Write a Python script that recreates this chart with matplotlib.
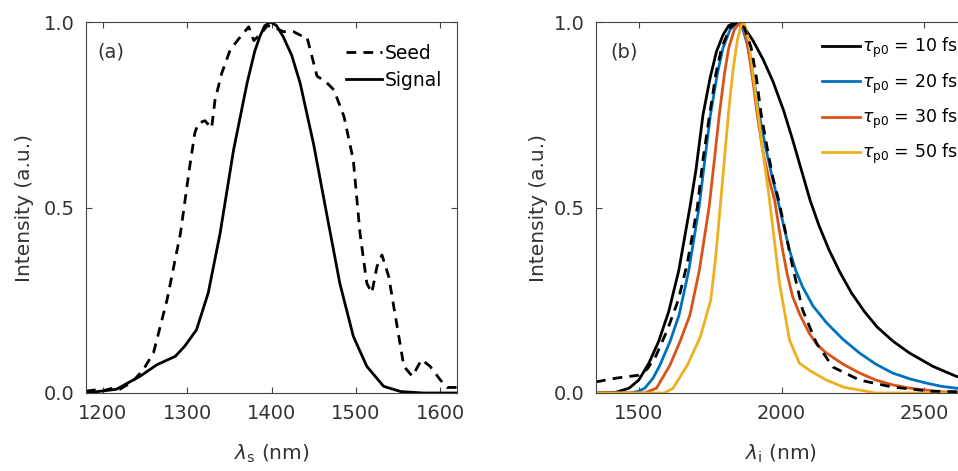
import numpy as np
import matplotlib
matplotlib.use("Agg")
import matplotlib.pyplot as plt

plt.rcParams['font.family'] = ['DejaVu Sans']
plt.rcParams['mathtext.fontset'] = 'dejavusans'

# ---- panel (a) data ----
seed_x = [1180, 1190, 1200, 1210, 1220, 1235, 1248, 1260, 1276, 1292, 1303, 1309, 1313,
          1321, 1329, 1333, 1341, 1351, 1363, 1373, 1379, 1388, 1395, 1402, 1414, 1426,
          1438, 1442, 1454, 1464, 1474, 1486, 1497, 1505, 1513, 1519, 1525, 1531, 1539,
          1547, 1557, 1567, 1578, 1588, 1600, 1608, 1620]
seed_y = [0.005, 0.008, 0.006, 0.012, 0.01, 0.03, 0.063, 0.108, 0.25, 0.43, 0.61, 0.70, 0.727,
          0.734, 0.714, 0.79, 0.862, 0.925, 0.96, 0.987, 0.95, 0.97, 0.99, 0.987, 0.974, 0.974,
          0.96, 0.96, 0.854, 0.84, 0.817, 0.745, 0.628, 0.43, 0.296, 0.27, 0.34, 0.372, 0.314,
          0.206, 0.072, 0.045, 0.09, 0.072, 0.036, 0.015, 0.015]
signal_x = [1180, 1216, 1244, 1264, 1286, 1297, 1311, 1325, 1339, 1355, 1371, 1380, 1386, 1392,
            1399, 1406, 1414, 1424, 1434, 1450, 1466, 1481, 1497, 1513, 1533, 1553, 1580, 1620]
signal_y = [0.0, 0.01, 0.045, 0.076, 0.099, 0.126, 0.17, 0.27, 0.43, 0.655, 0.835, 0.92, 0.96,
            0.99, 1.0, 0.99, 0.96, 0.91, 0.835, 0.67, 0.476, 0.296, 0.153, 0.072, 0.018, 0.004,
            0.0, 0.0]

# ---- panel (b) data ----
t10_x = [1350, 1420, 1466, 1500, 1535, 1570, 1605, 1640, 1679, 1700, 1725, 1750, 1772, 1795,
         1815, 1840, 1870, 1900, 1935, 1970, 2008, 2040, 2070, 2100, 2132, 2167, 2205, 2245,
         2290, 2335, 2390, 2448, 2530, 2612, 2650]
t10_y = [0.0, 0.002, 0.013, 0.035, 0.08, 0.14, 0.22, 0.33, 0.5, 0.6, 0.75, 0.85, 0.92, 0.965,
         0.99, 1.0, 0.985, 0.95, 0.9, 0.84, 0.76, 0.68, 0.6, 0.52, 0.45, 0.385, 0.325, 0.27,
         0.22, 0.178, 0.14, 0.108, 0.072, 0.045, 0.038]
t20_x = [1350, 1470, 1500, 1521, 1550, 1574, 1610, 1641, 1675, 1711, 1730, 1751, 1775, 1795,
         1820, 1848, 1865, 1880, 1900, 1922, 1945, 1965, 1987, 2008, 2028, 2050, 2074, 2110,
         2157, 2215, 2273, 2330, 2389, 2450, 2506, 2560, 2612, 2650]
t20_y = [0.0, 0.0, 0.005, 0.013, 0.04, 0.075, 0.14, 0.21, 0.33, 0.5, 0.62, 0.75, 0.86, 0.93,
         0.98, 1.0, 0.98, 0.94, 0.86, 0.75, 0.66, 0.59, 0.52, 0.45, 0.385, 0.33, 0.286, 0.235,
         0.19, 0.145, 0.108, 0.078, 0.054, 0.038, 0.027, 0.018, 0.013, 0.01]
t30_x = [1350, 1520, 1562, 1609, 1645, 1679, 1712, 1746, 1765, 1782, 1800, 1815, 1835, 1856,
         1870, 1883, 1900, 1915, 1935, 1955, 1976, 1990, 2004, 2020, 2039, 2065, 2098, 2125,
         2157, 2215, 2273, 2330, 2389, 2450, 2506, 2560, 2650]
t30_y = [0.0, 0.0, 0.013, 0.075, 0.14, 0.21, 0.33, 0.5, 0.63, 0.75, 0.86, 0.93, 0.98, 1.0,
         0.98, 0.93, 0.84, 0.75, 0.65, 0.58, 0.52, 0.45, 0.385, 0.32, 0.26, 0.21, 0.16, 0.13,
         0.108, 0.078, 0.054, 0.035, 0.022, 0.013, 0.008, 0.003, 0.0]
t50_x = [1350, 1590, 1620, 1670, 1715, 1752, 1770, 1785, 1800, 1815, 1830, 1845, 1858, 1868,
         1885, 1910, 1935, 1958, 1993, 2028, 2063, 2100, 2157, 2220, 2273, 2330, 2650]
t50_y = [0.0, 0.0, 0.013, 0.075, 0.15, 0.25, 0.37, 0.5, 0.63, 0.76, 0.87, 0.95, 0.99, 1.0,
         0.95, 0.8, 0.65, 0.52, 0.296, 0.143, 0.08, 0.06, 0.035, 0.015, 0.008, 0.0, 0.0]
idler_x = [1350, 1420, 1500, 1530, 1560, 1600, 1638, 1670, 1705, 1725, 1748, 1770, 1790, 1820,
           1845, 1870, 1894, 1912, 1929, 1950, 1970, 1990, 2015, 2039, 2074, 2122, 2180, 2273,
           2389, 2520, 2650]
idler_y = [0.03, 0.04, 0.048, 0.065, 0.1, 0.17, 0.25, 0.35, 0.5, 0.63, 0.75, 0.86, 0.93, 0.985,
           1.0, 0.985, 0.93, 0.85, 0.75, 0.66, 0.58, 0.52, 0.43, 0.34, 0.224, 0.135, 0.07, 0.035,
           0.016, 0.005, 0.003]

legend_b = [r'$\tau_{\rm p0}$ = 10 fs', r'$\tau_{\rm p0}$ = 20 fs',
            r'$\tau_{\rm p0}$ = 30 fs', r'$\tau_{\rm p0}$ = 50 fs']
colors_b = ['#000000', '#0072BD', '#D95319', '#EDB120']

txt = '#333333'
W, H = 958, 471
fig = plt.figure(figsize=(9.58, 4.71), dpi=100)
ax1 = fig.add_axes([86/W, 78/H, 371/W, 371/H])
ax2 = fig.add_axes([596/W, 78/H, 371/W, 371/H])

lw = 2.0
dash = (0, (3.5, 2.6))
ax1.plot(seed_x, seed_y, color='k', lw=lw, ls=dash, label='Seed')
ax1.plot(signal_x, signal_y, color='k', lw=lw, label='Signal')
ax1.set_xlim(1180, 1620)
ax1.set_xticks([1200, 1300, 1400, 1500, 1600])
ax1.set_xlabel(r'$\lambda_{\rm s}$ (nm)', fontsize=14.5, color=txt, labelpad=14)
ax1.text(97/W, 1 - 52/H, '(a)', transform=fig.transFigure, fontsize=14, color=txt, va='center')
ax1.legend(loc='upper left', bbox_to_anchor=(346/W, 1 - 44/H), bbox_transform=fig.transFigure,
           frameon=False, fontsize=13.5, handlelength=1.9, handletextpad=0.15,
           borderaxespad=0, borderpad=0, labelspacing=0.4)

for (x, y, c, l) in zip([t10_x, t20_x, t30_x, t50_x], [t10_y, t20_y, t30_y, t50_y], colors_b, legend_b):
    ax2.plot(x, y, color=c, lw=lw, label=l)
ax2.plot(idler_x, idler_y, color='k', lw=lw, ls=dash)
ax2.set_xlim(1350, 2650)
ax2.set_xticks([1500, 2000, 2500])
ax2.set_xlabel(r'$\lambda_{\rm i}$ (nm)', fontsize=14.5, color=txt, labelpad=14)
ax2.text(610/W, 1 - 52/H, '(b)', transform=fig.transFigure, fontsize=14, color=txt, va='center')
ax2.legend(loc='upper left', bbox_to_anchor=(822/W, 1 - 36/H), bbox_transform=fig.transFigure,
           frameon=False, fontsize=12.5, handlelength=2.2, handletextpad=0.1,
           borderaxespad=0, borderpad=0, labelspacing=0.64)

for ax, lp in ((ax1, 7), (ax2, 4)):
    ax.set_ylim(0, 1)
    ax.set_yticks([0, 0.5, 1.0])
    ax.set_yticklabels(['0.0', '0.5', '1.0'])
    ax.set_ylabel('Intensity (a.u.)', fontsize=14.5, color=txt, labelpad=lp)
    ax.tick_params(direction='in', top=True, right=True, length=4, width=0.8,
                   labelsize=14, colors='#444444', labelcolor=txt, pad=8)
    for s in ax.spines.values():
        s.set_color('#444444')
        s.set_linewidth(0.8)

fig.savefig('out.png', dpi=100)
